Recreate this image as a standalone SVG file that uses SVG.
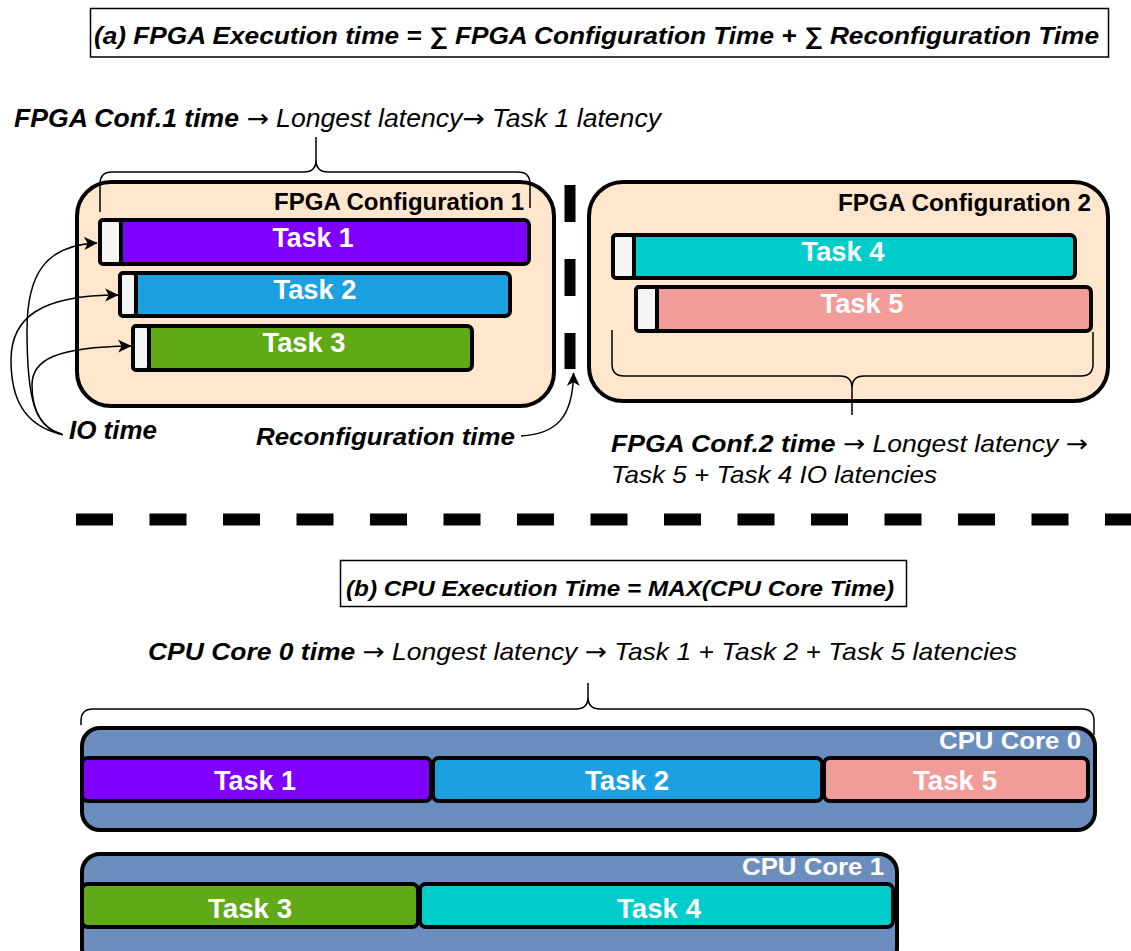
<svg xmlns="http://www.w3.org/2000/svg" width="1131" height="951" viewBox="0 0 1131 951">
<defs>
<marker id="arr" markerUnits="userSpaceOnUse" markerWidth="14" markerHeight="14" viewBox="0 0 12 12" refX="11" refY="6" orient="auto">
<path d="M0,0.5 L11.5,6 L0,11.5 L3,6 Z" fill="#000"/>
</marker>
<style>
text{font-family:"Liberation Sans",Arial,Helvetica,sans-serif;}
.bi{font-weight:bold;font-style:italic;}
.it{font-style:italic;}
.ar{font-family:"DejaVu Sans",sans-serif;font-style:normal;font-weight:normal;}
.tk{font-weight:bold;fill:#fff;font-size:28px;text-anchor:middle;}
.lbl{font-weight:bold;font-size:23px;fill:#000;}
.cl{font-weight:bold;font-size:24px;fill:#fff;}
.conf{fill:#FFE6CC;stroke:#000;stroke-width:4;}
.bar{stroke:#000;stroke-width:4;}
.io{fill:#F5F5F5;stroke:#000;stroke-width:4;}
.core{fill:#6C8EBF;stroke:#000;stroke-width:4;}
.brace{fill:none;stroke:#000;stroke-width:1.5;}
.conn{fill:none;stroke:#000;stroke-width:1.5;}
.box{fill:none;stroke:#000;stroke-width:1.5;}
</style>
</defs>
<rect width="1131" height="951" fill="#fff"/>

<g id="title-a">
<rect class="box" x="90.5" y="8.5" width="1018" height="48.5"/>
<text class="bi" x="94" y="44" font-size="24" textLength="1005" lengthAdjust="spacingAndGlyphs">(a) FPGA Execution time = ∑ FPGA Configuration Time + ∑ Reconfiguration Time</text>
</g>

<g id="conf1-note">
<text class="it" x="14" y="127" font-size="25" textLength="647" lengthAdjust="spacingAndGlyphs"><tspan font-weight="bold">FPGA Conf.1 time</tspan> <tspan class="ar">→</tspan> Longest latency<tspan class="ar">→</tspan> Task 1 latency</text>
</g>

<g id="fpga-conf1">
<rect class="conf" x="77" y="182" width="477" height="224" rx="34"/>
<text class="lbl" x="274" y="210" textLength="250" lengthAdjust="spacingAndGlyphs">FPGA Configuration 1</text>
</g>
<g id="f-task1">
<rect class="bar" x="100" y="220" width="429" height="44" rx="5" fill="#7F00FF"/>
<rect class="io" x="100" y="220" width="21" height="44" rx="3"/>
<text class="tk" x="313" y="247" textLength="81" lengthAdjust="spacingAndGlyphs">Task 1</text>
</g>
<g id="f-task2">
<rect class="bar" x="120" y="273" width="390" height="43" rx="5" fill="#1BA1E2"/>
<rect class="io" x="120" y="273" width="16" height="43" rx="3"/>
<text class="tk" x="315" y="299" textLength="83" lengthAdjust="spacingAndGlyphs">Task 2</text>
</g>
<g id="f-task3">
<rect class="bar" x="133" y="326" width="339" height="44" rx="5" fill="#60A917"/>
<rect class="io" x="133" y="326" width="16" height="44" rx="3"/>
<text class="tk" x="304" y="352" textLength="83" lengthAdjust="spacingAndGlyphs">Task 3</text>
</g>

<g id="fpga-conf2">
<rect class="conf" x="589" y="182" width="519" height="219" rx="34"/>
<text class="lbl" x="838" y="211" textLength="253" lengthAdjust="spacingAndGlyphs">FPGA Configuration 2</text>
</g>
<g id="f-task4">
<rect class="bar" x="613" y="235" width="462" height="43" rx="5" fill="#00CCCC"/>
<rect class="io" x="613" y="235" width="21" height="43" rx="3"/>
<text class="tk" x="843" y="261" textLength="83" lengthAdjust="spacingAndGlyphs">Task 4</text>
</g>
<g id="f-task5">
<rect class="bar" x="636" y="287" width="455" height="44" rx="5" fill="#F19C99"/>
<rect class="io" x="636" y="287" width="21" height="44" rx="3"/>
<text class="tk" x="862" y="313" textLength="83" lengthAdjust="spacingAndGlyphs">Task 5</text>
</g>

<g id="io-label">
<text class="bi" x="69" y="439" font-size="25" textLength="88" lengthAdjust="spacingAndGlyphs">IO time</text>
</g>
<g id="reconf-label">
<text class="bi" x="256" y="445" font-size="24" textLength="259" lengthAdjust="spacingAndGlyphs">Reconfiguration time</text>
</g>

<g id="conf2-note">
<text class="it" x="611" y="452" font-size="24" textLength="477" lengthAdjust="spacingAndGlyphs"><tspan font-weight="bold">FPGA Conf.2 time</tspan> <tspan class="ar">→</tspan> Longest latency <tspan class="ar">→</tspan></text>
<text class="it" x="611" y="483" font-size="24" textLength="326" lengthAdjust="spacingAndGlyphs">Task 5 + Task 4 IO latencies</text>
</g>

<g id="title-b">
<rect class="box" x="340.5" y="560.5" width="566" height="46"/>
<text class="bi" x="346" y="596" font-size="22" textLength="548" lengthAdjust="spacingAndGlyphs">(b) CPU Execution Time = MAX(CPU Core Time)</text>
</g>

<g id="core0-note">
<text class="it" x="148" y="660" font-size="24" textLength="869" lengthAdjust="spacingAndGlyphs"><tspan font-weight="bold">CPU Core 0 time</tspan> <tspan class="ar">→</tspan> Longest latency <tspan class="ar">→</tspan> Task 1 + Task 2 + Task 5 latencies</text>
</g>

<g id="cpu-core0">
<rect class="core" x="82" y="728" width="1013" height="102" rx="18"/>
<text class="cl" x="939" y="749" textLength="142" lengthAdjust="spacingAndGlyphs">CPU Core 0</text>
</g>
<g id="c-task1">
<rect class="bar" x="82" y="758" width="349" height="43" rx="6" fill="#7F00FF"/>
<text class="tk" x="255" y="790" textLength="82" lengthAdjust="spacingAndGlyphs">Task 1</text>
</g>
<g id="c-task2">
<rect class="bar" x="433" y="758" width="389" height="43" rx="6" fill="#1BA1E2"/>
<text class="tk" x="627" y="790" textLength="84" lengthAdjust="spacingAndGlyphs">Task 2</text>
</g>
<g id="c-task5">
<rect class="bar" x="824" y="758" width="264" height="43" rx="6" fill="#F19C99"/>
<text class="tk" x="955" y="790" textLength="84" lengthAdjust="spacingAndGlyphs">Task 5</text>
</g>

<g id="cpu-core1">
<rect class="core" x="82" y="854" width="815" height="112" rx="18"/>
<text class="cl" x="742" y="875" textLength="142" lengthAdjust="spacingAndGlyphs">CPU Core 1</text>
</g>
<g id="c-task3">
<rect class="bar" x="82" y="884" width="336" height="43" rx="6" fill="#60A917"/>
<text class="tk" x="250" y="918" textLength="84" lengthAdjust="spacingAndGlyphs">Task 3</text>
</g>
<g id="c-task4">
<rect class="bar" x="420" y="884" width="473" height="43" rx="6" fill="#00CCCC"/>
<text class="tk" x="659" y="918" textLength="84" lengthAdjust="spacingAndGlyphs">Task 4</text>
</g>

<g id="connectors">
<path class="brace" d="M100,212 V184 Q100,172 112,172 H304 Q316,172 316,160 V137 M316,160 Q316,172 328,172 H518 Q530,172 530,184 V208"/>
<path class="brace" d="M612,330 V364 Q612,376 624,376 H840 Q852,376 852,388 V415 M852,388 Q852,376 864,376 H1081 Q1093,376 1093,364 V332"/>
<path class="brace" d="M81,725 V721 Q81,709 93,709 H576 Q588,709 588,697 V683 M588,697 Q588,709 600,709 H1082 Q1094,709 1094,721 V735"/>
<line x1="570" y1="185" x2="570" y2="369" stroke="#000" stroke-width="11" stroke-dasharray="37 37"/>
<line x1="76" y1="519.5" x2="1131" y2="519.5" stroke="#000" stroke-width="12" stroke-dasharray="37 36.5"/>
<path class="conn" d="M62,434 C35,428 27,400 27,330 C27,275 45,245 97,243" marker-end="url(#arr)"/>
<path class="conn" d="M60,434 C25,425 11,400 11,360 C11,318 40,295 118,295" marker-end="url(#arr)"/>
<path class="conn" d="M63,435 C40,428 32,410 32,385 C32,360 55,347 131,346" marker-end="url(#arr)"/>
<path class="conn" d="M521,436 C556,434 573,418 573.5,373" marker-end="url(#arr)"/>
</g>
</svg>
